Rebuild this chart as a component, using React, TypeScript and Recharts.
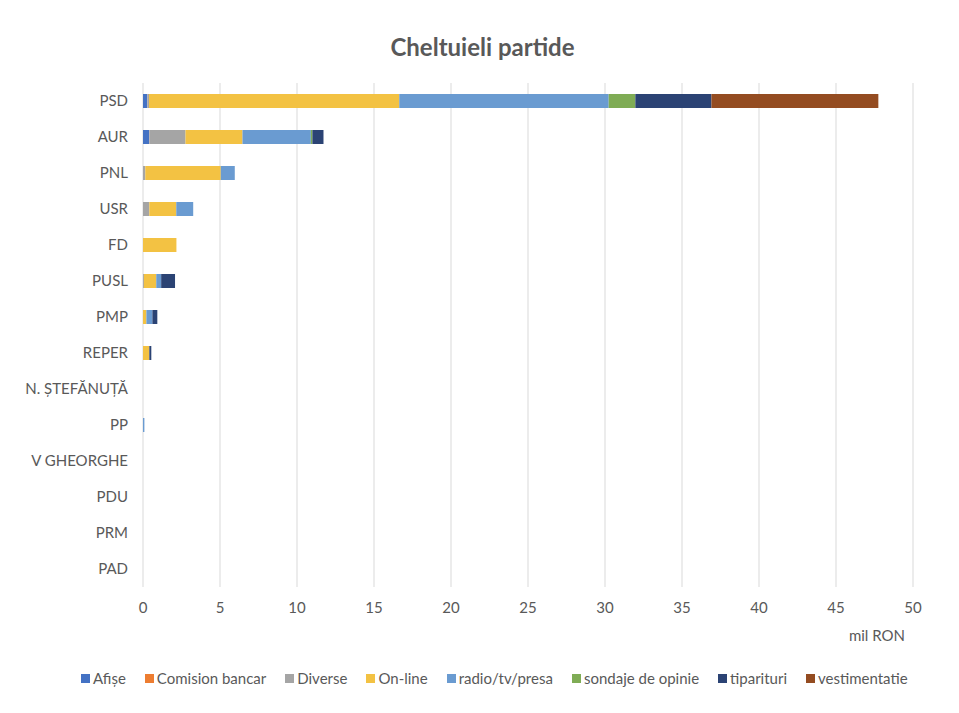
import { BarChart, Bar, XAxis, YAxis, CartesianGrid, Legend } from "recharts";

const parties = [
  "PSD",
  "AUR",
  "PNL",
  "USR",
  "FD",
  "PUSL",
  "PMP",
  "REPER",
  "N. ȘTEFĂNUȚĂ",
  "PP",
  "V GHEORGHE",
  "PDU",
  "PRM",
  "PAD",
];

// mil RON
const afise = [0.28, 0.41, 0, 0, 0, 0, 0, 0, 0, 0, 0, 0, 0, 0];
const comisionBancar = [0.01, 0.01, 0, 0, 0, 0, 0, 0, 0, 0, 0, 0, 0, 0];
const diverse = [0.1, 2.34, 0.15, 0.41, 0, 0.06, 0, 0, 0, 0, 0, 0, 0, 0];
const online = [16.25, 3.7, 4.9, 1.75, 2.17, 0.8, 0.22, 0.41, 0, 0, 0, 0, 0, 0];
const radioTvPresa = [13.6, 4.44, 0.91, 1.1, 0, 0.32, 0.39, 0, 0, 0.09, 0, 0, 0, 0];
const sondaje = [1.73, 0.1, 0, 0, 0, 0, 0, 0, 0, 0, 0, 0, 0, 0];
const tiparituri = [4.94, 0.72, 0, 0, 0, 0.9, 0.32, 0.13, 0, 0, 0, 0, 0, 0];
const vestimentatie = [10.84, 0, 0, 0, 0, 0, 0, 0, 0, 0, 0, 0, 0, 0];

const xTicks = [0, 5, 10, 15, 20, 25, 30, 35, 40, 45, 50];

const series = [
  { key: "Afișe", values: afise, color: "#4472C4" },
  { key: "Comision bancar", values: comisionBancar, color: "#ED7D31" },
  { key: "Diverse", values: diverse, color: "#A5A5A5" },
  { key: "On-line", values: online, color: "#F3C243" },
  { key: "radio/tv/presa", values: radioTvPresa, color: "#6A9BD1" },
  { key: "sondaje de opinie", values: sondaje, color: "#7FAC55" },
  { key: "tiparituri", values: tiparituri, color: "#2B4374" },
  { key: "vestimentatie", values: vestimentatie, color: "#944C21" },
];

const data = parties.map((name, i) => {
  const row: Record<string, string | number> = { name };
  for (const s of series) row[s.key] = s.values[i];
  return row;
});

const FONT = "Lato, 'Open Sans', sans-serif";
const GRAY = "#595959";

function LegendRow() {
  return (
    <ul
      style={{
        display: "flex",
        justifyContent: "flex-start",
        margin: 0,
        padding: 0,
        paddingLeft: 81,
        listStyle: "none",
        height: 20,
        alignItems: "center",
        fontSize: 15,
        fontFamily: FONT,
        color: GRAY,
      }}
    >
      {series.map((s, i) => (
        <li
          key={s.key}
          style={{ display: "flex", alignItems: "center", marginRight: i === series.length - 1 ? 0 : 19 }}
        >
          <span style={{ width: 9, height: 9, background: s.color, marginRight: 3, display: "inline-block" }} />
          {s.key}
        </li>
      ))}
    </ul>
  );
}

export default function App() {
  return (
    <div style={{ position: "absolute", left: 0, top: 0, width: 959, height: 713, fontFamily: FONT }}>
      <div
        style={{
          position: "absolute",
          top: 32,
          left: 3,
          width: 959,
          textAlign: "center",
          fontSize: 24,
          fontWeight: 700,
          color: GRAY,
        }}
      >
        Cheltuieli partide
      </div>
      <BarChart
        width={959}
        height={713}
        data={data}
        layout="vertical"
        barSize={14}
        margin={{ top: 83, right: 46, left: 0, bottom: 25 }}
      >
        <CartesianGrid horizontal={false} stroke="#d9d9d9" />
        <XAxis
          type="number"
          domain={[0, 50]}
          ticks={xTicks}
          interval={0}
          axisLine={false}
          tickLine={false}
          tick={{ fontSize: 15, fill: GRAY, fontFamily: FONT }}
          tickMargin={9}
          height={81}
          label={{
            value: "mil RON",
            position: "insideBottomRight",
            offset: 0,
            dx: -8,
            dy: -27,
            style: { fontSize: 15, fill: GRAY, fontFamily: FONT },
          }}
        />
        <YAxis
          type="category"
          dataKey="name"
          width={143}
          axisLine={false}
          tickLine={false}
          tickMargin={9}
          interval={0}
          tick={{ fontSize: 15, fill: GRAY, fontFamily: FONT }}
        />
        <Legend verticalAlign="bottom" content={() => <LegendRow />} />
        {series.map((s) => (
          <Bar key={s.key} dataKey={s.key} stackId="a" fill={s.color} isAnimationActive={false} />
        ))}
      </BarChart>
    </div>
  );
}
